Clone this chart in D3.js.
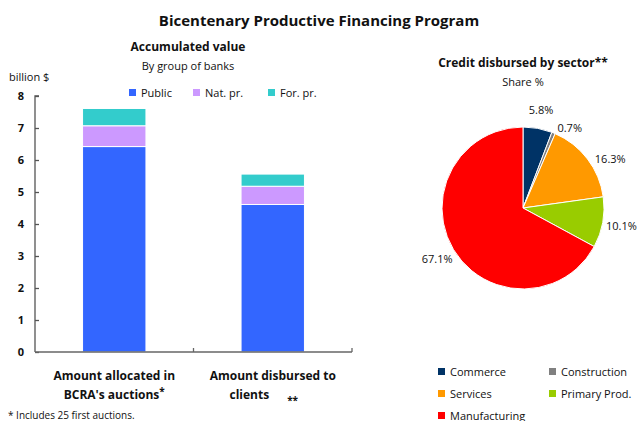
<!DOCTYPE html>
<html>
<head>
<meta charset="utf-8">
<script src="https://cdn.jsdelivr.net/npm/d3@7"></script>
<style>
  body { margin: 0; background: #fff; }
  svg { font-family: "Open Sans", Lato, sans-serif; fill: #111; }
</style>
</head>
<body>
<svg id="chart" width="637" height="421"></svg>
<script>
// bar chart data (billion $)
const barGroups = ["Amount allocated in|BCRA's auctions", "Amount disbursed to|clients"];
const barMarks = ["*", "**"];
const seriesNames = ["Public", "Nat. pr.", "For. pr."];
const seriesColors = ["#3366ff", "#cc99ff", "#33cccc"];
const publicVals = [6.42, 4.61];
const natPrVals = [0.65, 0.57];
const forPrVals = [0.54, 0.38];
const yTicks = [0, 1, 2, 3, 4, 5, 6, 7, 8];

// pie data (share %)
const sectors = ["Commerce", "Construction", "Services", "Primary Prod.", "Manufacturing"];
const sectorShares = [5.8, 0.7, 16.3, 10.1, 67.1];
const sectorColors = ["#003366", "#808080", "#ff9900", "#99cc00", "#ff0000"];

const svg = d3.select("#chart");

const text = (x, y, str, opts = {}) =>
  svg.append("text")
    .attr("x", x).attr("y", y)
    .attr("text-anchor", opts.anchor || "middle")
    .style("font-size", (opts.size || 11) + "px")
    .style("font-weight", opts.bold ? "bold" : "normal")
    .text(str);

text(319, 26, "Bicentenary Productive Financing Program", { size: 15, bold: true });

// ---- stacked bars ----
const x = d3.scaleBand().domain(barGroups).range([35, 352]).paddingInner(0.6).paddingOuter(0.3);
const y = d3.scaleLinear().domain([0, 8]).range([352, 96]);

const rows = barGroups.map((g, i) => ({
  group: g, "Public": publicVals[i], "Nat. pr.": natPrVals[i], "For. pr.": forPrVals[i]
}));
const stacked = d3.stack().keys(seriesNames)(rows);

svg.append("g")
  .selectAll("g")
  .data(stacked)
  .join("g")
  .attr("fill", (d, i) => seriesColors[i])
  .selectAll("rect")
  .data(d => d)
  .join("rect")
  .attr("x", d => x(d.data.group))
  .attr("width", x.bandwidth())
  .attr("y", d => y(d[1]))
  .attr("height", d => y(d[0]) - y(d[1]))
  .attr("stroke", "#fff")
  .attr("stroke-width", 1);

const yAxis = svg.append("g")
  .attr("transform", "translate(35,0)")
  .call(d3.axisRight(y).tickValues(yTicks).tickSize(4).tickFormat(d3.format("d")));
yAxis.select(".domain").attr("d", "M4," + y(8) + "H0V" + y(0));
yAxis.selectAll(".tick text")
  .attr("x", -11).attr("text-anchor", "end")
  .style("font-size", "11px").style("font-weight", "bold")
  .style("font-family", "'Open Sans', sans-serif").attr("fill", "#111");
yAxis.selectAll("path, line").attr("stroke", "#555").attr("stroke-width", 1.3);

// x axis line with a middle and end tick
const xAxis = svg.append("g");
xAxis.append("line").attr("x1", 35).attr("x2", 352).attr("y1", y(0)).attr("y2", y(0))
  .attr("stroke", "#666").attr("stroke-width", 1.5);
[(x(barGroups[0]) + x(barGroups[1]) + x.bandwidth()) / 2, 352].forEach(px => {
  xAxis.append("line").attr("x1", px).attr("x2", px).attr("y1", y(0)).attr("y2", y(0) - 4)
    .attr("stroke", "#666").attr("stroke-width", 1.3);
});

barGroups.forEach((g, i) => {
  const cx = x(g) + x.bandwidth() / 2;
  const [l1, l2] = g.split("|");
  text(cx, 380, l1, { size: 12, bold: true });
  if (i === 0) {
    const t2 = text(cx, 399, l2, { size: 12, bold: true });
    t2.append("tspan").attr("dy", -4).style("font-size", "10px").text(barMarks[i]);
  } else {
    const t2 = text(cx - 9, 399, l2, { size: 12, bold: true });
    t2.append("tspan").attr("dx", 18).attr("dy", 5).style("font-size", "10px").text(barMarks[i]);
  }
});

text(188, 51, "Accumulated value", { size: 12, bold: true });
text(188, 70, "By group of banks", { size: 11 });
text(9, 81, "billion $", { size: 11, anchor: "start" });

const legendX = [129, 193, 268];
seriesNames.forEach((s, i) => {
  svg.append("rect").attr("x", legendX[i]).attr("y", 89).attr("width", 7).attr("height", 7)
    .attr("fill", seriesColors[i]);
  text(legendX[i] + 12, 97, s, { size: 11, anchor: "start" });
});

text(8, 419, "* Includes 25 first auctions.", { size: 10, anchor: "start" });

// ---- pie ----
const cx = 523, cy = 208, r = 81;
const pie = d3.pie().sort(null).value(d => d)(sectorShares);
const arc = d3.arc().innerRadius(0).outerRadius(r);
const pieG = svg.append("g").attr("transform", `translate(${cx},${cy})`);
pieG.selectAll("path")
  .data(pie)
  .join("path")
  .attr("d", arc)
  .attr("fill", (d, i) => sectorColors[i])
  .attr("stroke", "#fff")
  .attr("stroke-width", 1);

const labelR = 100;
pieG.selectAll("text")
  .data(pie)
  .join("text")
  .each(function (d) {
    let a = (d.startAngle + d.endAngle) / 2;
    // nudge the crowded upper-right labels clockwise, as the original does
    if (d.value < 2) a += 0.14;
    else if (a > 0.5 && a < 1.5) a += 0.14;
    const rr = d.value < 2 ? labelR - 7 : labelR;
    d3.select(this)
      .attr("x", Math.sin(a) * rr)
      .attr("y", -Math.cos(a) * rr + 4);
  })
  .attr("text-anchor", "middle")
  .style("font-size", "11px")
  .text(d => d3.format(".1f")(d.value) + "%");

text(523, 67, "Credit disbursed by sector**", { size: 12, bold: true });
text(523, 86, "Share %", { size: 11 });

const legCols = [438, 549];
const legRows = [368, 390, 412];
sectors.forEach((s, i) => {
  const lx = legCols[i % 2], ly = legRows[Math.floor(i / 2)];
  svg.append("rect").attr("x", lx).attr("y", ly).attr("width", 7).attr("height", 7)
    .attr("fill", sectorColors[i]);
  text(lx + 12, ly + 7.5, s, { size: 11, anchor: "start" });
});
</script>
</body>
</html>
